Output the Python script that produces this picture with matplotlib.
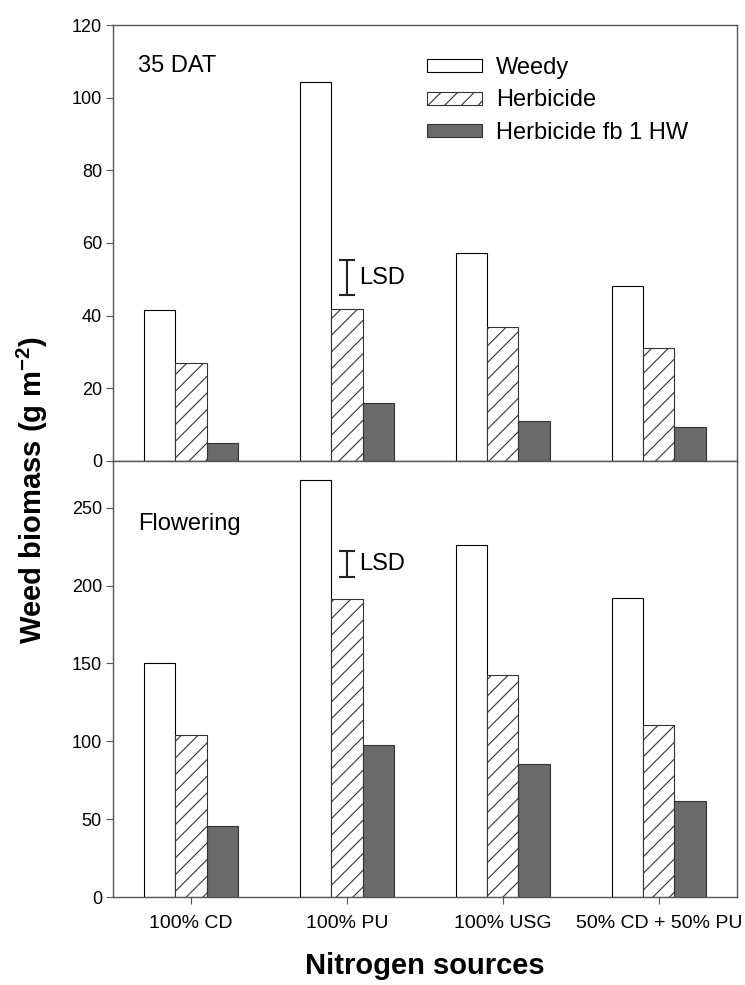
import numpy as np
import matplotlib
matplotlib.use('Agg')
import matplotlib.pyplot as plt

plt.rcParams['font.family'] = ['Liberation Sans', 'DejaVu Sans']
plt.rcParams['mathtext.fontset'] = 'custom'
plt.rcParams['mathtext.rm'] = 'Liberation Sans'
plt.rcParams['mathtext.bf'] = 'Liberation Sans:bold'
plt.rcParams['hatch.color'] = '#555555'
plt.rcParams['hatch.linewidth'] = 0.8

# nitrogen sources (x categories)
sources = ['100% CD', '100% PU', '100% USG', '50% CD + 50% PU']
treatments = ['Weedy', 'Herbicide', 'Herbicide fb 1 HW']

# weed biomass at 35 DAT (g m-2)
dat35_weedy = [41.6, 104.4, 57.2, 48.3]
dat35_herb = [26.9, 41.7, 36.8, 31.2]
dat35_hw = [5.0, 15.9, 11.0, 9.4]
dat35_lsd_mid = 50.5
dat35_lsd = 9.6

# weed biomass at flowering (g m-2)
flw_weedy = [150.5, 267.6, 225.9, 192.0]
flw_herb = [104.1, 191.3, 142.7, 110.6]
flw_hw = [45.7, 97.7, 85.4, 61.6]
flw_lsd_mid = 214.0
flw_lsd = 16.4

x = np.arange(1, len(sources) + 1)
w = 0.2

fig = plt.figure(figsize=(7.45, 9.85), dpi=100)
ax1 = fig.add_axes([0.1517, 0.532, 0.8373, 0.4426])
ax2 = fig.add_axes([0.1517, 0.0893, 0.8373, 0.4427])


def draw_panel(ax, weedy, herb, hw):
    b1 = ax.bar(x - w, weedy, w, color='white', edgecolor='black', linewidth=0.8, label=treatments[0])
    b2 = ax.bar(x, herb, w, color='white', edgecolor='#333333', linewidth=0.8, hatch='//', label=treatments[1])
    b3 = ax.bar(x + w, hw, w, color='#6a6a6a', edgecolor='#333333', linewidth=0.8, label=treatments[2])
    ax.set_xlim(0.5, 4.5)
    for s in ax.spines.values():
        s.set_color('#555555')
        s.set_linewidth(1.0)
    ax.tick_params(direction='out', length=5, color='#555555')
    ax.tick_params(axis='y', labelsize=13, pad=3)
    ax.set_xticks(x)
    return b1, b2, b3


def lsd_bar(ax, mid, lsd):
    ax.errorbar([2], [mid], yerr=lsd / 2, fmt='none', ecolor='#222222',
                elinewidth=1.5, capsize=5.5, capthick=1.5)
    ax.text(2.075, mid, 'LSD', fontsize=17, va='center')


handles = draw_panel(ax1, dat35_weedy, dat35_herb, dat35_hw)
ax1.set_ylim(0, 120)
ax1.set_yticks(np.arange(0, 121, 20))
ax1.set_xticklabels([])
ax1.text(0.04, 0.906, '35 DAT', transform=ax1.transAxes, fontsize=17, va='center')
ax1.legend(handles=handles, loc='upper left', bbox_to_anchor=(0.503, 0.926), frameon=False,
           fontsize=17, handlelength=2.33, handleheight=0.47, labelspacing=0.43,
           handletextpad=0.6, borderpad=0, borderaxespad=0)
lsd_bar(ax1, dat35_lsd_mid, dat35_lsd)

draw_panel(ax2, flw_weedy, flw_herb, flw_hw)
ax2.set_ylim(0, 280)
ax2.set_yticks(np.arange(0, 251, 50))
ax2.set_xticklabels(sources, fontsize=14)
ax2.tick_params(axis='x', pad=8)
ax2.text(0.04, 0.855, 'Flowering', transform=ax2.transAxes, fontsize=17, va='center')
lsd_bar(ax2, flw_lsd_mid, flw_lsd)

fig.text(0.5705, 0.011, 'Nitrogen sources', fontsize=21, fontweight='bold', ha='center', va='baseline')
fig.text(0.043, 0.5025, r'Weed biomass (g m$^{\mathbf{-2}}$)', rotation=90, fontsize=21,
         fontweight='bold', ha='center', va='center')

fig.savefig('out.png', dpi=100)
